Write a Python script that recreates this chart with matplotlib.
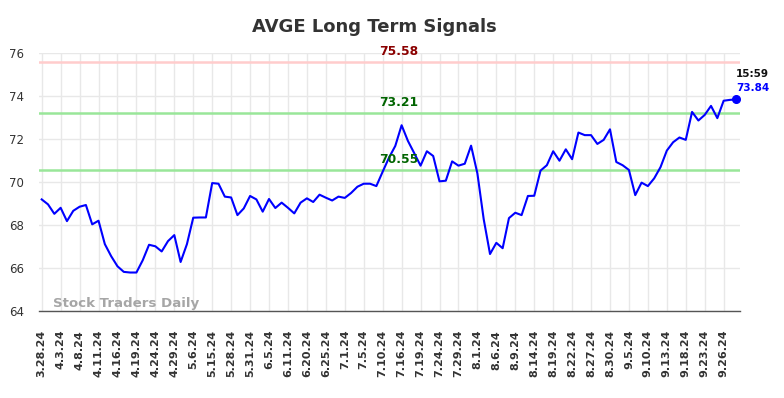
import matplotlib
matplotlib.use("Agg")
import matplotlib.pyplot as plt

title = "AVGE Long Term Signals"

values = [
    69.19, 68.96, 68.52, 68.80, 68.18, 68.66, 68.85, 68.93, 68.03, 68.20,
    67.11, 66.55, 66.08, 65.82, 65.79, 65.79, 66.36, 67.08, 67.01, 66.77,
    67.25, 67.53, 66.28, 67.11, 68.34, 68.35, 68.35, 69.95, 69.92, 69.32,
    69.28, 68.46, 68.77, 69.35, 69.19, 68.62, 69.21, 68.79, 69.04, 68.80,
    68.54, 69.04, 69.24, 69.07, 69.41, 69.27, 69.14, 69.32, 69.26, 69.49,
    69.78, 69.92, 69.92, 69.81, 70.48, 71.13, 71.68, 72.64, 71.91, 71.34,
    70.76, 71.43, 71.21, 70.03, 70.06, 70.96, 70.76, 70.85, 71.69, 70.40,
    68.27, 66.65, 67.17, 66.92, 68.32, 68.57, 68.46, 69.35, 69.36, 70.53,
    70.78, 71.43, 70.99, 71.52, 71.06, 72.30, 72.18, 72.18, 71.77, 71.96,
    72.45, 70.93, 70.78, 70.56, 69.39, 69.97, 69.81, 70.17, 70.69, 71.46,
    71.85, 72.07, 71.96, 73.26, 72.86, 73.12, 73.54, 72.97, 73.78, 73.82,
    73.84,
]

tick_labels = [
    "3.28.24", "4.3.24", "4.8.24", "4.11.24", "4.16.24", "4.19.24", "4.24.24",
    "4.29.24", "5.6.24", "5.15.24", "5.28.24", "5.31.24", "6.5.24", "6.11.24",
    "6.20.24", "6.25.24", "7.1.24", "7.5.24", "7.10.24", "7.16.24", "7.19.24",
    "7.24.24", "7.29.24", "8.1.24", "8.6.24", "8.9.24", "8.14.24", "8.19.24",
    "8.22.24", "8.27.24", "8.30.24", "9.5.24", "9.10.24", "9.13.24", "9.18.24",
    "9.23.24", "9.26.24",
]
tick_step = 3

signal_levels = [75.58, 73.21, 70.55]
signal_line_colors = ["#ffcccc", "#99e699", "#99e699"]
signal_text_colors = ["#8b0000", "#006400", "#006400"]

last_time = "15:59"
y_ticks = [64, 66, 68, 70, 72, 74, 76]

fig = plt.figure(figsize=(7.84, 3.98), dpi=100)
ax = fig.add_axes([39.3 / 784, 1 - 311 / 398, 700.7 / 784, 258 / 398])

x = list(range(len(values)))
ax.set_xlim(-0.38, len(values) - 1 + 0.59)
ax.set_ylim(64, 76)

ax.set_yticks(y_ticks)
ax.set_xticks(x[::tick_step][:len(tick_labels)])
ax.set_xticklabels(tick_labels, rotation=90, fontsize=8, fontweight="bold", color="#333333")
ax.tick_params(axis="x", length=0, pad=13.5)
ax.tick_params(axis="y", length=0, pad=11, labelsize=8.5, labelcolor="#333333")

ax.grid(True, color="#e8e8e8", linewidth=1.0)
ax.set_axisbelow(True)
for s in ["top", "right", "left"]:
    ax.spines[s].set_visible(False)
ax.spines["bottom"].set_color("#555555")
ax.spines["bottom"].set_linewidth(1.0)

for lvl, lc, tc in zip(signal_levels, signal_line_colors, signal_text_colors):
    ax.axhline(lvl, color=lc, linewidth=1.8, zorder=2)
    ax.annotate(f"{lvl:.2f}", xy=(56.5, lvl), xytext=(0, 3), textcoords="offset points",
                ha="center", va="bottom", fontsize=8.8, fontweight="bold", color=tc, zorder=5)

ax.plot(x, values, color="#0000ff", linewidth=1.5, zorder=4)
ax.plot([x[-1]], [values[-1]], "o", color="#0000ff", markersize=5.5, zorder=5)

ax.annotate(f"{values[-1]:.2f}", xy=(x[-1], values[-1]), xytext=(0, 4.5),
            textcoords="offset points", ha="left", va="bottom", fontsize=7.5,
            fontweight="bold", color="#0000ff", annotation_clip=False)
ax.annotate(last_time, xy=(x[-1], values[-1]), xytext=(0, 15),
            textcoords="offset points", ha="left", va="bottom", fontsize=7.5,
            fontweight="bold", color="#111111", annotation_clip=False)

ax.text(0.0195, 0.017, "Stock Traders Daily", transform=ax.transAxes,
        fontsize=9.6, fontweight="bold", color="#a6a6a6", ha="left", va="baseline", zorder=3)

fig.text(374.5 / 784, 1 - 31.7 / 398, title, ha="center", va="baseline",
         fontsize=13, fontweight="bold", color="#333333")

fig.savefig("out.png", dpi=100)
